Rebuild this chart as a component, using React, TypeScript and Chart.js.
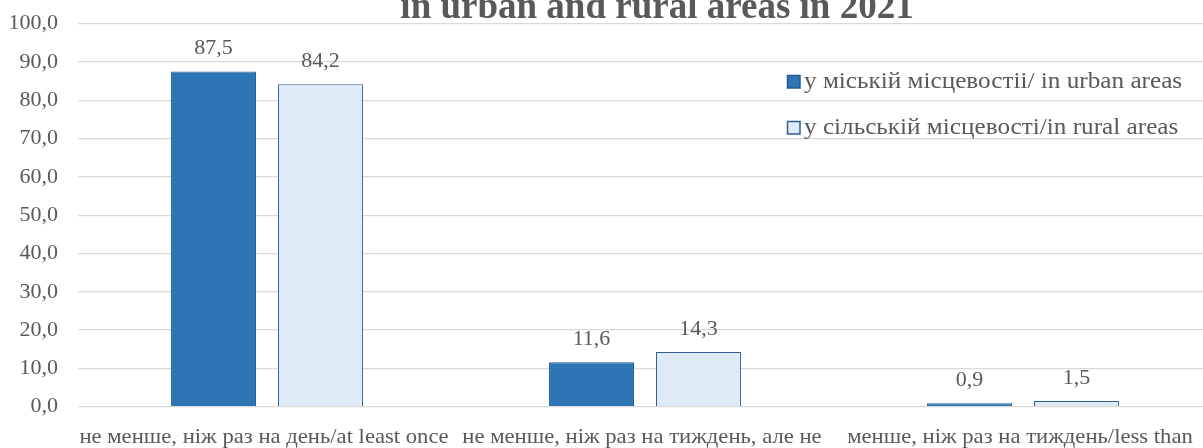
import React, { useEffect, useRef } from "react";
import { Chart, registerables } from "chart.js";

Chart.register(...registerables);

const categories = [
  "не менше, ніж раз на день/at least once",
  "не менше, ніж раз на тиждень, але не",
  "менше, ніж раз на тиждень/less than",
];
const urbanLabel = "у міській місцевостіі/ in urban areas";
const ruralLabel = "у сільській місцевості/in rural areas";
const urbanValues = [87.5, 11.6, 0.9];
const ruralValues = [84.2, 14.3, 1.5];
const titleText = "in urban and rural areas in 2021";

const FONT = "'Liberation Serif', 'Times New Roman', serif";
const TEXT = "#595959";
const URBAN_FILL = "#2E75B6";
const URBAN_BORDER = "#245C8F";
const RURAL_FILL = "#DEEBF7";
const RURAL_BORDER = "#2F5F8F";

const fmt = (v: number) => v.toFixed(1).replace(".", ",");

function drawScaled(ctx: CanvasRenderingContext2D, text: string, x: number, y: number, sx: number, align: "left" | "center") {
  ctx.save();
  ctx.translate(x, y);
  ctx.scale(sx, 1);
  ctx.textAlign = align;
  ctx.fillText(text, 0, 0);
  ctx.restore();
}

const overlayPlugin = {
  id: "overlay",
  afterDatasetsDraw(chart: any) {
    const ctx = chart.ctx;
    ctx.save();
    ctx.fillStyle = TEXT;
    // data labels
    ctx.font = `22px ${FONT}`;
    ctx.textAlign = "center";
    ctx.textBaseline = "middle";
    chart.data.datasets.forEach((ds: any, di: number) => {
      const meta = chart.getDatasetMeta(di);
      meta.data.forEach((el: any, i: number) => {
        ctx.fillText(fmt(ds.data[i]), el.x, el.y - 23);
      });
    });
    // category labels
    const xs = chart.scales.x;
    ctx.font = `22px ${FONT}`;
    ctx.textBaseline = "middle";
    categories.forEach((c, i) => {
      drawScaled(ctx, c, xs.getPixelForTick(i) - 3, 437, 1.03, "center");
    });
    // title
    ctx.font = `bold 37px ${FONT}`;
    ctx.textBaseline = "alphabetic";
    ctx.textAlign = "center";
    ctx.fillText(titleText, 657, 18);
    // legend
    const items = [
      { label: urbanLabel, fill: URBAN_FILL, border: URBAN_BORDER, y: 75 },
      { label: ruralLabel, fill: RURAL_FILL, border: RURAL_BORDER, y: 121 },
    ];
    ctx.font = `22.5px ${FONT}`;
    items.forEach((it) => {
      ctx.fillStyle = it.fill;
      ctx.fillRect(787, it.y, 13, 13);
      ctx.strokeStyle = it.border;
      ctx.lineWidth = 1.5;
      ctx.strokeRect(787.5, it.y + 0.5, 12.5, 12.5);
      ctx.fillStyle = TEXT;
      ctx.textBaseline = "alphabetic";
      drawScaled(ctx, it.label, 804, it.y + 13, 1.12, "left");
    });
    ctx.restore();
  },
};

export default function App() {
  const ref = useRef<HTMLCanvasElement>(null);
  useEffect(() => {
    if (!ref.current) return;
    const chart = new Chart(ref.current, {
      type: "bar",
      data: {
        labels: categories,
        datasets: [
          {
            label: urbanLabel,
            data: urbanValues,
            backgroundColor: URBAN_FILL,
            borderColor: URBAN_BORDER,
            borderWidth: 1,
          },
          {
            label: ruralLabel,
            data: ruralValues,
            backgroundColor: RURAL_FILL,
            borderColor: RURAL_BORDER,
            borderWidth: 1,
          },
        ],
      },
      options: {
        responsive: false,
        animation: false,
        devicePixelRatio: 1,
        datasets: { bar: { categoryPercentage: 0.566, barPercentage: 0.794 } },
        layout: { padding: { left: 0, right: 3, top: 23.7, bottom: 0 } },
        plugins: { legend: { display: false }, title: { display: false }, tooltip: { enabled: false } },
        scales: {
          x: {
            grid: { display: false, drawTicks: false },
            border: { display: false },
            ticks: { display: false },
            afterFit: (s: any) => {
              s.height = 41.3;
              s.paddingLeft = 0;
              s.paddingRight = 0;
            },
          },
          y: {
            min: 0,
            max: 100,
            grid: { color: "#D9D9D9", lineWidth: 1.3, drawTicks: false },
            border: { display: false },
            ticks: {
              stepSize: 10,
              color: TEXT,
              font: { family: FONT, size: 22 },
              padding: 20,
              callback: (v: any) => fmt(Number(v)),
            },
            afterFit: (s: any) => {
              s.width = 78;
              s.paddingTop = 0;
              s.paddingBottom = 0;
            },
          },
        },
      },
      plugins: [overlayPlugin],
    });
    return () => chart.destroy();
  }, []);
  return (
    <div style={{ position: "fixed", left: 0, top: 0, width: 1203, height: 448, overflow: "hidden", background: "#fff" }}>
      <canvas ref={ref} width={1215} height={448} style={{ display: "block" }} />
    </div>
  );
}
